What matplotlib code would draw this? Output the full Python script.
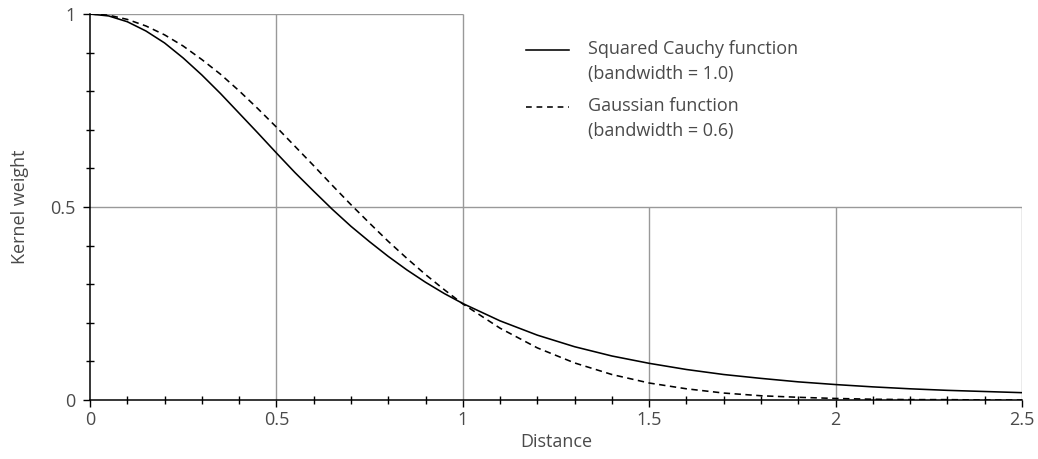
import matplotlib
matplotlib.use("Agg")
import matplotlib.pyplot as plt
from matplotlib.ticker import MultipleLocator

plt.rcParams['font.family'] = ['Open Sans', 'DejaVu Sans']

# Distances (x) and kernel weights
distance = [0.0, 0.05, 0.1, 0.15, 0.2, 0.25, 0.3, 0.35, 0.4, 0.45, 0.5,
            0.55, 0.6, 0.65, 0.7, 0.75, 0.8, 0.85, 0.9, 0.95, 1.0,
            1.1, 1.2, 1.3, 1.4, 1.5, 1.6, 1.7, 1.8, 1.9, 2.0,
            2.1, 2.2, 2.3, 2.4, 2.5]
cauchy_weight = [1.0, 0.995, 0.980, 0.956, 0.925, 0.886, 0.842, 0.794, 0.743, 0.692, 0.640,
                 0.589, 0.541, 0.494, 0.450, 0.410, 0.372, 0.337, 0.305, 0.276, 0.250,
                 0.205, 0.168, 0.138, 0.114, 0.095, 0.079, 0.066, 0.056, 0.047, 0.040,
                 0.034, 0.029, 0.025, 0.022, 0.019]
gauss_weight = [1.0, 0.997, 0.986, 0.969, 0.946, 0.917, 0.882, 0.844, 0.801, 0.755, 0.707,
                0.657, 0.607, 0.556, 0.506, 0.458, 0.411, 0.367, 0.325, 0.286, 0.249,
                0.186, 0.135, 0.096, 0.066, 0.044, 0.029, 0.018, 0.011, 0.007, 0.004,
                0.002, 0.001, 0.001, 0.000, 0.000]
legend_lines = [["Squared Cauchy function", "(bandwidth = 1.0)"],
                ["Gaussian function", "(bandwidth = 0.6)"]]

xticks = [0, 0.5, 1, 1.5, 2, 2.5]
xtick_labels = ["0", "0.5", "1", "1.5", "2", "2.5"]
yticks = [0, 0.5, 1]
ytick_labels = ["0", "0.5", "1"]

W, H = 1038, 459
fig = plt.figure(figsize=(W/100, H/100), dpi=100)
L, R, T, B = 90, 1022, 14, 400
ax = fig.add_axes([L/W, 1-B/H, (R-L)/W, (B-T)/H])

text_c = '#4a4a4a'
grid_c = '#999999'
FS = 13

# grid (partial, region behind legend is empty)
ax.hlines(1.0, 0, 1.0, color=grid_c, lw=1, zorder=1)
ax.hlines(0.5, 0, 2.5, color=grid_c, lw=1, zorder=1)
ax.vlines([0.5, 1.0], 0, 1.0, color=grid_c, lw=1, zorder=1)
ax.vlines([1.5, 2.0, 2.5], 0, 0.5, color=grid_c, lw=1, zorder=1)

dash = (0, (4, 2.8))
ax.plot(distance, cauchy_weight, color='black', lw=1.15, ls='-', zorder=3,
        solid_capstyle='butt')
ax.plot(distance, gauss_weight, color='black', lw=1.15, ls=dash, zorder=3)

ax.set_xlim(0, 2.5)
ax.set_ylim(0, 1)
for s in ['top', 'right']:
    ax.spines[s].set_visible(False)
for s in ['left', 'bottom']:
    ax.spines[s].set_color('black')
    ax.spines[s].set_linewidth(1.1)
    ax.spines[s].set_zorder(4)

ax.set_xticks(xticks)
ax.set_xticklabels(xtick_labels)
ax.set_yticks(yticks)
ax.set_yticklabels(ytick_labels)
ax.xaxis.set_minor_locator(MultipleLocator(0.1))
ax.yaxis.set_minor_locator(MultipleLocator(0.1))
ax.tick_params(which='major', direction='out', length=5, width=1, color='black',
               labelsize=FS, labelcolor=text_c)
ax.tick_params(axis='y', which='major', pad=5.5)
ax.tick_params(axis='x', which='major', pad=3)
ax.tick_params(which='minor', direction='inout', length=6, width=1, color='black')

ax.set_xlabel("Distance", fontsize=FS, color=text_c, labelpad=3)
ax.set_ylabel("Kernel weight", fontsize=FS, color=text_c, labelpad=15)

# legend drawn manually: handle aligned with first label line
def ax_xy(px, py):
    return ((px - L) / (R - L), (B - py) / (B - T))

styles = ['-', (0, (3.6, 3.0))]
row_y = [49, 106]
for (lines, st, y0) in zip(legend_lines, styles, row_y):
    x0, yy = ax_xy(526, y0 + 1)
    x1, _ = ax_xy(569, y0 + 1)
    ax.plot([x0, x1], [yy, yy], transform=ax.transAxes, color='black', lw=1.15,
            ls=st, clip_on=False)
    for k, line in enumerate(lines):
        tx, ty = ax_xy(588, y0 + 25 * k)
        ax.text(tx, ty, line, transform=ax.transAxes, fontsize=FS, color=text_c,
                ha='left', va='center')

fig.savefig("out.png", dpi=100)
